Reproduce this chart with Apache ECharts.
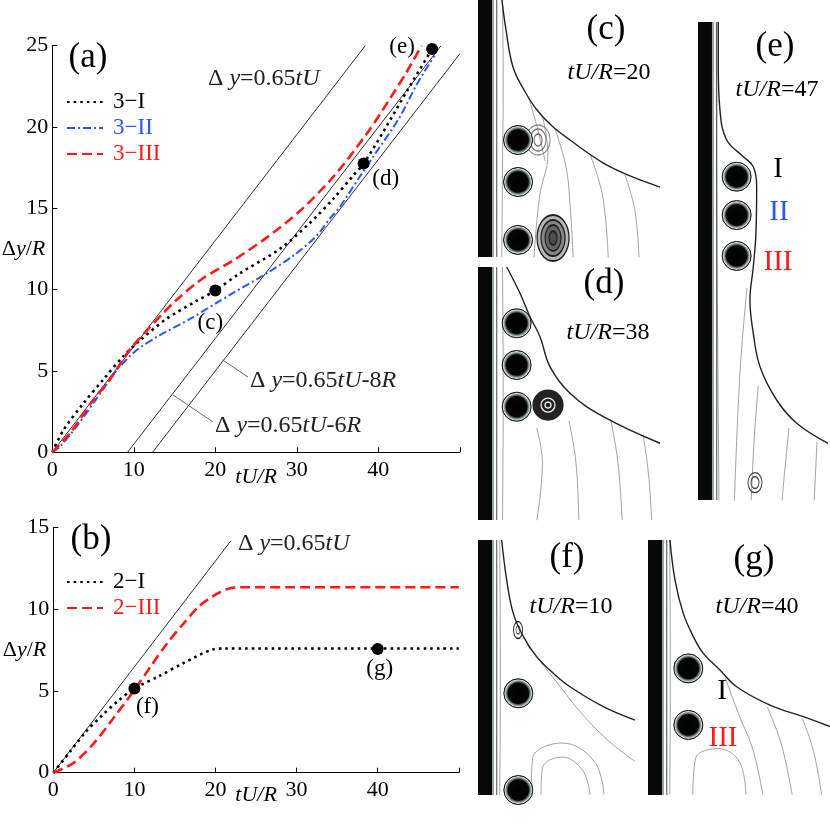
<!DOCTYPE html>
<html><head><meta charset="utf-8">
<script src="https://cdn.jsdelivr.net/npm/echarts@6/dist/echarts.min.js"></script>
<style>html,body{margin:0;padding:0;background:#fff}#c{width:830px;height:828px}</style>
</head><body><div id="c"></div>
<script>
const FONT = 'Liberation Serif';
// ---------- panel (a) data: tU/R vs Δy/R ----------
const xTicksA = [0, 10, 20, 30, 40];
const curve3I = [[0,0],[1.35,1.35],[3.8,3.0],[6.3,4.5],[8.7,5.9],[10.8,6.9],[14.0,8.2],[17.5,9.25],[20,9.95],[23,11.0],[27.9,12.5],[31.6,14.1],[34.5,15.6],[36.9,17.0],[38.2,17.75],[40.6,19.7],[43.5,22.2],[46.6,24.8]];
const curve3II = [[0,0],[0.94,0.35],[3.0,1.6],[5.85,3.6],[7.9,5.05],[10.4,6.3],[13.2,7.2],[16.9,8.2],[20.2,9.2],[22.2,9.8],[26.3,11.0],[29.6,12.1],[32.4,13.3],[34.1,14.4],[35.3,15.1],[37.8,17.0],[39.4,18.2],[42.5,20.5],[44.7,22.6],[46.9,24.4]];
const curve3III = [[0,0],[2.2,1.2],[5.0,3.2],[7.1,4.5],[9.5,6.3],[11.6,7.5],[13.5,8.5],[15.3,9.4],[18.5,10.7],[22.2,11.8],[26.3,13.2],[30.4,14.85],[34.5,16.95],[38.6,19.6],[41.5,21.8],[43.5,23.4],[45.3,25.0]];
const lineA0 = [[0,0],[38.4,25]];      // Δy = 0.65 tU
const lineA6 = [[9.23,0],[47.7,25]];   // Δy = 0.65 tU - 6R
const lineA8 = [[12.3,0],[50,24.5]];   // Δy = 0.65 tU - 8R
const arrow6 = [[19.7,1.87],[14.8,3.53]];
const arrow8 = [[24.0,4.63],[20.9,5.68]];
const dotsA = [[20,9.95],[38.2,17.75],[46.6,24.8]];
const dotNamesA = ['(c)','(d)','(e)'];
// ---------- panel (b) data ----------
const curve2I = [[0,0],[2,1.25],[4,2.5],[6,3.5],[8,4.4],[10,5.15],[13,5.9],[16,6.7],[19.7,7.55],[21,7.6],[50,7.6]];
const curve2III = [[0,0],[2.5,0.6],[5,1.8],[7.5,3.4],[10,5.06],[12,6.5],[14,7.9],[16,9.1],[18,10.2],[20,10.9],[21.5,11.25],[23,11.35],[50,11.35]];
const lineB0 = [[0,0],[21.9,14.2]];
const dotsB = [[10,5.15],[40,7.57]];
const dotNamesB = ['(f)','(g)'];
// ---------- flow snapshots (units of particle radius R, from panel top-left) ----------
const partC = [[2.86,10.0],[2.86,13.0],[2.86,17.14]];
const surfC = [[1.71,0],[2.0,2.14],[2.5,4.79],[3.29,6.43],[4.21,7.86],[5.29,9.0],[6.57,10.0],[8.93,11.64],[10.86,12.57],[13,13.36]];
const streamC = [[[1.75,0],[1.8,6],[1.75,12],[1.7,18.4]],[[5.5,9.2],[6.3,12],[6.6,15],[6.8,18.4]],[[8,11],[8.9,14],[9.3,18.4]],[[10.5,12.5],[11.2,15],[11.5,18.4]],[[4.6,8.3],[5.0,11],[4.4,14],[4.0,18.4]],[[3.6,6.9],[4.2,9],[4.8,11.5]]];
const vortC = [[4.29,10.0],[5.36,17.0]];
const partD = [[2.76,4.02],[2.76,7.0],[2.76,9.98]];
const surfD = [[2.05,0],[3.0,1.88],[3.71,3.55],[4.43,4.98],[5.14,7.12],[6.57,9.02],[8.95,10.69],[13,12.59]];
const streamD = [[[1.75,0],[1.8,9],[1.75,18.1]],[[6.5,11],[7.0,14],[7.2,18.1]],[[9.5,11],[10.0,14],[10.3,18.1]],[[4.2,11.5],[4.6,14],[4.2,18.1]],[[11.8,12],[12.2,15],[12.4,18.1]]];
const vortD = [[5.0,9.86]];
const partE = [[2.76,11.05],[2.76,13.79],[2.76,16.71]];
const surfE = [[1.45,0],[1.45,3.19],[1.57,6.29],[2.05,8.43],[3.24,9.62],[3.95,10.34],[4.19,11.76],[4.14,15.07],[3.95,17.48],[3.71,19.86],[3.95,22.24],[4.43,24.62],[5.62,27.0],[7.05,28.66],[9.29,30.09]];
const streamE = [[[1.3,0],[1.35,15],[1.5,34.2]],[[3.5,19],[3.0,25],[2.6,34.2]],[[6.5,29],[6.2,32],[6.0,34.2]],[[8.5,30],[8.3,34.2]],[[4.3,26],[4.0,30],[3.8,34.2]]];
const vortE = [[4.07,32.9]];
const partF = [[2.88,10.95],[2.88,17.86]];
const surfF = [[1.69,0],[2.05,2.86],[2.52,5.24],[3.24,6.9],[4.19,8.33],[5.38,9.52],[6.57,10.48],[8.95,11.9],[11.21,12.86]];
const streamF = [[[1.55,0],[1.6,10],[1.55,18.2]],[[3.5,7.5],[5.5,10],[7.5,12.5],[9.5,14.5],[11.2,15.8]],[[4.5,18.2],[4.6,16.3],[6,15.5],[7.5,16.5],[8,18.2]],[[3.8,18.2],[3.9,15.6],[6,14.5],[8.3,15.8],[9,18.2]]];
const vortF = [[2.86,6.43]];
const partG = [[2.88,9.17],[2.88,13.21]];
const surfG = [[1.57,0],[1.93,2.86],[2.52,5.24],[3.24,6.9],[3.95,8.1],[5.14,9.29],[6.33,10.48],[8.71,11.79],[11.1,12.62],[13,13.33]];
const streamG = [[[1.55,0],[1.6,10],[1.55,18.2]],[[5.5,9.8],[6.5,12.5],[7.5,15],[8.2,18.2]],[[8.5,11.9],[9.5,14.5],[10.3,18.2]],[[11.0,12.7],[11.8,15],[12.4,18.2]],[[3.2,18.2],[3.4,15.6],[5,14.9],[6.5,15.8],[7,18.2]]];

const PX = 14; // pixels per R in snapshots
const panels = [
  {box:[478,0,182,257], part:partC, surf:surfC, stream:streamC, vort:vortC, kind:'c'},
  {box:[478,267,182,253], part:partD, surf:surfD, stream:streamD, vort:vortD, kind:'d'},
  {box:[698,22,130,478], part:partE, surf:surfE, stream:streamE, vort:vortE, kind:'e'},
  {box:[478,540,157,255], part:partF, surf:surfF, stream:streamF, vort:vortF, kind:'f'},
  {box:[648,540,182,255], part:partG, surf:surfG, stream:streamG, vort:[], kind:'g'}
];

const NB = {containLabel:false, outerBoundsMode:'none'};
const grids = [
  Object.assign({left:52.3, top:45.7, width:407.5, height:406.6}, NB),
  Object.assign({left:53.3, top:527.7, width:405.5, height:245}, NB)
];
const xAxes = [], yAxes = [];
function plotAxes(gi, ymax) {
  const lab = {fontFamily:FONT, fontSize:22, color:'#000'};
  xAxes.push({gridIndex:gi, type:'value', min:0, max:50, interval:10,
    axisLine:{show:true, lineStyle:{color:'#000', width:1}},
    axisTick:{show:true, inside:true, length:5, lineStyle:{color:'#000'}},
    splitLine:{show:false},
    axisLabel:Object.assign({margin:7, formatter:v => v===50 ? '' : String(v)}, lab),
    name:'{i|tU/R}', nameLocation:'middle', nameGap: gi===0 ? 14 : 12, nameMoveOverlap:false,
    nameTextStyle:{rich:{i:{fontFamily:FONT, fontStyle:'italic', fontSize:22, color:'#000'}}}
  });
  yAxes.push({gridIndex:gi, type:'value', min:0, max:ymax, interval:5,
    axisLine:{show:true, lineStyle:{color:'#000', width:1}},
    axisTick:{show:true, inside:true, length:5, lineStyle:{color:'#000'}},
    splitLine:{show:false},
    axisLabel:Object.assign({margin:4}, lab),
    name:'{n|Δ}{i|y}{n|/}{i|R}', nameLocation:'middle', nameRotate:0, nameGap:7, nameMoveOverlap:false,
    nameTextStyle:{align:'right', rich:{
      n:{fontFamily:FONT, fontSize:22, color:'#000'},
      i:{fontFamily:FONT, fontStyle:'italic', fontSize:22, color:'#000'}}}
  });
}
plotAxes(0, 25);
plotAxes(1, 15);

panels.forEach((p, k) => {
  grids.push(Object.assign({left:p.box[0], top:p.box[1], width:p.box[2], height:p.box[3]}, NB));
  xAxes.push({gridIndex:k+2, type:'value', min:0, max:p.box[2]/PX, show:false});
  yAxes.push({gridIndex:k+2, type:'value', min:0, max:p.box[3]/PX, inverse:true, show:false});
});

const series = [];
const thin = {color:'#333', width:1};
function ref(gi, data, extra) {
  series.push(Object.assign({type:'line', xAxisIndex:gi, yAxisIndex:gi, data:data, symbol:'none',
    lineStyle:thin, silent:true, animation:false, z:1}, extra||{}));
}
const arrowML = (pts) => ({silent:true, symbol:['none','arrow'], symbolSize:[0,7], animation:false,
  lineStyle:{color:'#444', width:0.8, type:'solid'}, label:{show:false},
  data:[[{coord:pts[0]},{coord:pts[1]}]]});
ref(0, lineA0);
ref(0, lineA6, {markLine:arrowML(arrow6)});
ref(0, lineA8, {markLine:arrowML(arrow8)});
ref(1, lineB0);

const blk = {color:'#000', width:2.6, type:[2.6,4]};
const blu = {color:'#2f55ff', width:2, type:[8,3,2,3]};
const red = {color:'#ff1a1a', width:2.6, type:[10,5]};
function curve(gi, name, data, ls) {
  series.push({type:'line', name:name, xAxisIndex:gi, yAxisIndex:gi, data:data, symbol:'none',
    smooth:0.3, lineStyle:ls, itemStyle:{color:ls.color}, animation:false, z:3});
}
curve(0, '3−I', curve3I, blk);
curve(0, '3−II', curve3II, blu);
curve(0, '3−III', curve3III, red);
curve(1, '2−I', curve2I, blk);
curve(1, '2−III', curve2III, red);

const dotOffsets = {'(c)':[-5,32], '(d)':[22,15], '(e)':[-30,-2], '(f)':[13,18], '(g)':[2,20]};
function dots(gi, pts, names) {
  series.push({type:'scatter', xAxisIndex:gi, yAxisIndex:gi, symbolSize:12, z:5, animation:false,
    itemStyle:{color:'#000', opacity:1},
    data: pts.map((v,i) => ({value:v, name:names[i],
      label:{show:true, position:'inside', offset:dotOffsets[names[i]], formatter:names[i],
        fontFamily:FONT, fontSize:23, color:'#000', opacity:1}}))});
}
dots(0, dotsA, dotNamesA);
dots(1, dotsB, dotNamesB);

// snapshots
const partStyle = {opacity:1, color:{type:'radial', x:0.5, y:0.5, r:0.5, colorStops:[
  {offset:0, color:'#000'}, {offset:0.68, color:'#050505'}, {offset:0.8, color:'#7d8a8a'},
  {offset:0.9, color:'#d8e0e0'}, {offset:1, color:'#1a1a1a'}]}, borderColor:'#111', borderWidth:1};
panels.forEach((p, k) => {
  const gi = k+2, H = p.box[3]/PX;
  const base = {xAxisIndex:gi, yAxisIndex:gi, animation:false, silent:true};
  p.stream.forEach(s => series.push(Object.assign({type:'line', data:s, symbol:'none', smooth:0.4,
    lineStyle:{color:'#8a8a8a', width:0.8}, z:1}, base)));
  series.push(Object.assign({type:'line', data:[[0.5,0],[0.5,H]], symbol:'none', lineStyle:{color:'#080808', width:14, cap:'butt'}, z:4}, base));
  series.push(Object.assign({type:'line', data:[[1.07,0],[1.07,H]], symbol:'none', lineStyle:{color:'#9aa3a3', width:2}, z:4}, base));
  series.push(Object.assign({type:'line', data:[[1.34,0],[1.34,H]], symbol:'none', lineStyle:{color:'#333', width:0.9}, z:4}, base));
  series.push(Object.assign({type:'line', data:p.surf, symbol:'none', smooth:0.4, lineStyle:{color:'#222', width:1.4}, z:3}, base));
  series.push(Object.assign({type:'scatter', data:p.part, symbolSize:29, itemStyle:partStyle, z:5}, base));
  if (p.vort.length) {
    const sizes = p.kind==='c' ? [[[24,30],'#888'],[[16,22],'#777'],[[8,12],'#666']] :
                  p.kind==='d' ? [[[30,30],'#222'],[[14,14],'#fff'],[[6,6],'#fff']] :
                  p.kind==='f' ? [[[9,17],'#222'],[[4,8],'#555']] :
                                 [[[14,20],'#444'],[[8,12],'#444']];
    const pts = p.vort.slice(0,1);
    sizes.forEach(sz => series.push(Object.assign({type:'scatter', data:pts, symbolSize:sz[0],
      itemStyle:{opacity:1, color: p.kind==='d' && sz[1]==='#222' ? '#222' : 'rgba(0,0,0,0)', borderColor:sz[1], borderWidth:1.2}, z:2}, base)));
    if (p.kind==='c') {
      const big = p.vort.slice(1,2);
      [[[32,46],'#222'],[[24,36],'#222'],[[16,26],'#222'],[[8,14],'#222']].forEach(sz => series.push(Object.assign({type:'scatter', data:big, symbolSize:sz[0],
        itemStyle:{opacity:1, color:'rgba(20,20,20,0.3)', borderColor:sz[1], borderWidth:1.5}, z:2}, base)));
    }
  }
});

// texts
const rn = {fontFamily:FONT, fontSize:24, fill:'#222'};
const ri = {fontFamily:FONT, fontSize:24, fontStyle:'italic', fill:'#222'};
function txt(x, y, text, size, color, align, rich) {
  return {type:'text', x:x, y:y, silent:true, z:10, style:{text:text, fontFamily:FONT, fontSize:size,
    fill:color||'#000', align:align||'center', verticalAlign:'middle', rich:rich}};
}
const eqRich = {n:rn, i:ri};
const tRich = {n:{fontFamily:FONT, fontSize:24, fill:'#000'}, i:{fontFamily:FONT, fontSize:24, fontStyle:'italic', fill:'#000'}};
const graphic = [
  txt(88, 58, '(a)', 35),
  txt(91, 540, '(b)', 35),
  txt(208, 79, '{n|Δ }{i|y}{n|=0.65}{i|tU}', 24, '#222', 'left', eqRich),
  txt(250, 381, '{n|Δ }{i|y}{n|=0.65}{i|tU}{n|-8}{i|R}', 24, '#222', 'left', eqRich),
  txt(215, 426, '{n|Δ }{i|y}{n|=0.65}{i|tU}{n|-6}{i|R}', 24, '#222', 'left', eqRich),
  txt(238, 544, '{n|Δ }{i|y}{n|=0.65}{i|tU}', 24, '#222', 'left', eqRich),
  txt(606, 30, '(c)', 35), txt(609, 73, '{i|tU/R}{n|=20}', 24, '#000', 'center', tRich),
  txt(604, 284, '(d)', 35), txt(608, 333, '{i|tU/R}{n|=38}', 24, '#000', 'center', tRich),
  txt(775, 47, '(e)', 35), txt(777, 90, '{i|tU/R}{n|=47}', 24, '#000', 'center', tRich),
  txt(778, 169, 'I', 29, '#000'), txt(779, 212, 'II', 29, '#2f55ff'), txt(778, 262, 'III', 29, '#ff1a1a'),
  txt(567, 558, '(f)', 35), txt(571, 607, '{i|tU/R}{n|=10}', 24, '#000', 'center', tRich),
  txt(754, 560, '(g)', 35), txt(757, 607, '{i|tU/R}{n|=40}', 24, '#000', 'center', tRich),
  txt(722, 691, 'I', 29, '#000'), txt(723, 738, 'III', 29, '#ff1a1a')
];

const legendText = {fontFamily:FONT, fontSize:23, lineHeight:26, padding:[0,0,0,5]};
const legendCommon = {orient:'vertical', itemWidth:36, itemHeight:12, itemGap:0, textStyle:legendText,
  itemStyle:{opacity:0}, lineStyle:{opacity:1}, selectedMode:false};
const option = {
  backgroundColor:'#fff',
  animation:false,
  grid:grids, xAxis:xAxes, yAxis:yAxes, series:series, graphic:graphic,
  legend:[
    Object.assign({left:61, top:84,
     data:[{name:'3−I', textStyle:{color:'#000'}}, {name:'3−II', textStyle:{color:'#2f55ff'}}, {name:'3−III', textStyle:{color:'#ff1a1a'}}]}, legendCommon),
    Object.assign({left:61, top:564,
     data:[{name:'2−I', textStyle:{color:'#000'}}, {name:'2−III', textStyle:{color:'#ff1a1a'}}]}, legendCommon)
  ]
};
const chart = echarts.init(document.getElementById('c'));
chart.setOption(option);
</script></body></html>
